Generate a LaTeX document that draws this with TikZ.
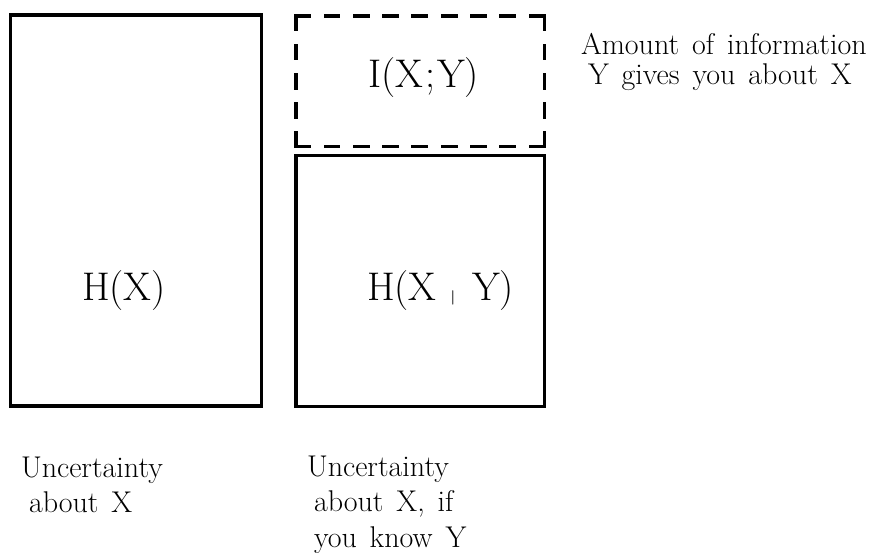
\documentclass[tikz,border=0pt]{standalone}
\newcommand\capfontsel{\fontsize{30}{36}\selectfont\spaceskip=0.43em plus 0.1em\relax}
\begin{document}
\begin{tikzpicture}[x=1pt,y=-1pt,
  solidbox/.style={draw=black, line width=3.6pt, inner sep=0pt, outer sep=0pt},
  hollow/.style={inner sep=0pt, outer sep=0pt},
  dashside/.style={draw=black, line width=3.6pt, line cap=rect, dash pattern=on 13.2pt off 16.1pt},
  bigtext/.style={inner sep=0pt, outer sep=0pt, anchor=base west, font=\fontsize{40}{48}\selectfont},
  smalltext/.style={inner sep=0pt, outer sep=0pt, anchor=base west, font=\capfontsel}]
\useasboundingbox (0,0) rectangle (875,552);
% boxes
\node[solidbox, minimum width=251pt, minimum height=391pt] (hx) at (136,210.5) {};
\node[solidbox, minimum width=248.5pt, minimum height=251pt] (hxy) at (420.25,281) {};
\node[hollow, minimum width=248.5pt, minimum height=130.5pt] (ixy) at (420.25,81.25) {};
\draw[dashside] (ixy.north west) -- (ixy.north east);
\draw[dashside] (ixy.south west) -- (ixy.south east);
\draw[dashside] (ixy.north west) -- (ixy.south west);
\draw[dashside] (ixy.north east) -- (ixy.south east);
% box labels
\node[bigtext] (lhx) at (82,300) {H(X)};
\node[bigtext] (lixy) at (368,87) {I(X\hspace{2pt};\hspace{2pt}Y)};
\node[bigtext] (lhxy) at (367,300) {H(X\hspace{14pt}\raisebox{-1.5pt}{\fontsize{15}{15}\selectfont\boldmath$|$}\hspace{17pt}Y)};
% captions
\node[smalltext] (c1a) at (21,477) {Uncertainty};
\node[smalltext] (c1b) at (29,512) {about X};
\node[smalltext] (c2a) at (307,476) {Uncertainty};
\node[smalltext] (c2b) at (314,511.5) {about X, if};
\node[smalltext] (c2c) at (314,547) {you know Y};
\node[smalltext] (c3a) at (581,54) {Amount of information};
\node[smalltext] (c3b) at (588,84) {Y gives you about X};
\end{tikzpicture}
\end{document}
